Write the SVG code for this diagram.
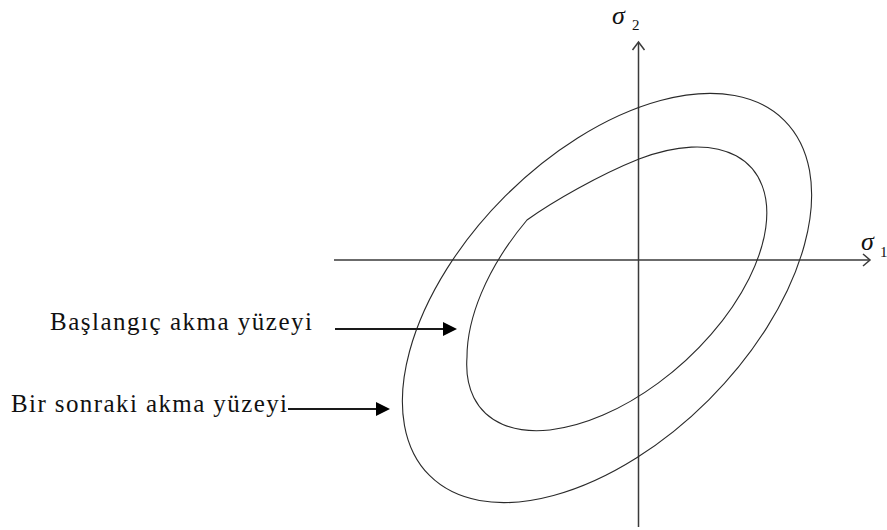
<svg xmlns="http://www.w3.org/2000/svg" width="887" height="530" viewBox="0 0 887 530">
<style>
.axis{stroke:#3a3a3a;stroke-width:1.5;fill:none}
.curve{stroke:#2a2a2a;stroke-width:1.1;fill:none}
.lbl{fill:#111}
.sig{font-style:italic;font-size:26px;fill:#111}
.sub{font-size:15px;fill:#111}
.conn{stroke:#1a1a1a;stroke-width:2;fill:none}
.head{fill:#000}
</style>
<rect width="887" height="530" fill="#fff"/>
<g id="axes" font-family="'Liberation Serif', 'Times New Roman', serif">
  <line class="axis" x1="638.5" y1="43" x2="638.5" y2="527"/>
  <polyline class="axis" points="632.5,50 638.5,42 644.5,50"/>
  <line class="axis" x1="334" y1="260" x2="869" y2="260"/>
  <polyline class="axis" points="863,254 870,260 863,266"/>
  <text class="sig" x="612" y="24">σ</text>
  <text class="sub" x="632" y="30">2</text>
  <text class="sig" x="861" y="250">σ</text>
  <text class="sub" x="880" y="257">1</text>
</g>
<g id="outer-surface">
  <ellipse class="curve" cx="607" cy="298" rx="251" ry="144" transform="rotate(-45 607 298)"/>
</g>
<g id="inner-surface">
  <path class="curve" d="M639,159 A181,99.4 -42 1 1 467,357 C467,320 485,270 527,220 C552,202 599,175 639,159 Z"/>
</g>
<g id="label-initial" font-family="'Liberation Serif', 'Times New Roman', serif">
  <text class="lbl" x="50" y="330" font-size="25" textLength="262" lengthAdjust="spacing">Başlangıç akma yüzeyi</text>
</g>
<g id="label-subsequent" font-family="'Liberation Serif', 'Times New Roman', serif">
  <text class="lbl" x="11" y="412" font-size="25" textLength="276" lengthAdjust="spacing">Bir sonraki akma yüzeyi</text>
</g>
<g id="connectors">
  <line class="conn" x1="335" y1="329" x2="445" y2="329"/>
  <polygon class="head" points="443,322 457,329 443,336"/>
  <line class="conn" x1="288" y1="409" x2="378" y2="409"/>
  <polygon class="head" points="376,402 390,409 376,416"/>
</g>
</svg>
